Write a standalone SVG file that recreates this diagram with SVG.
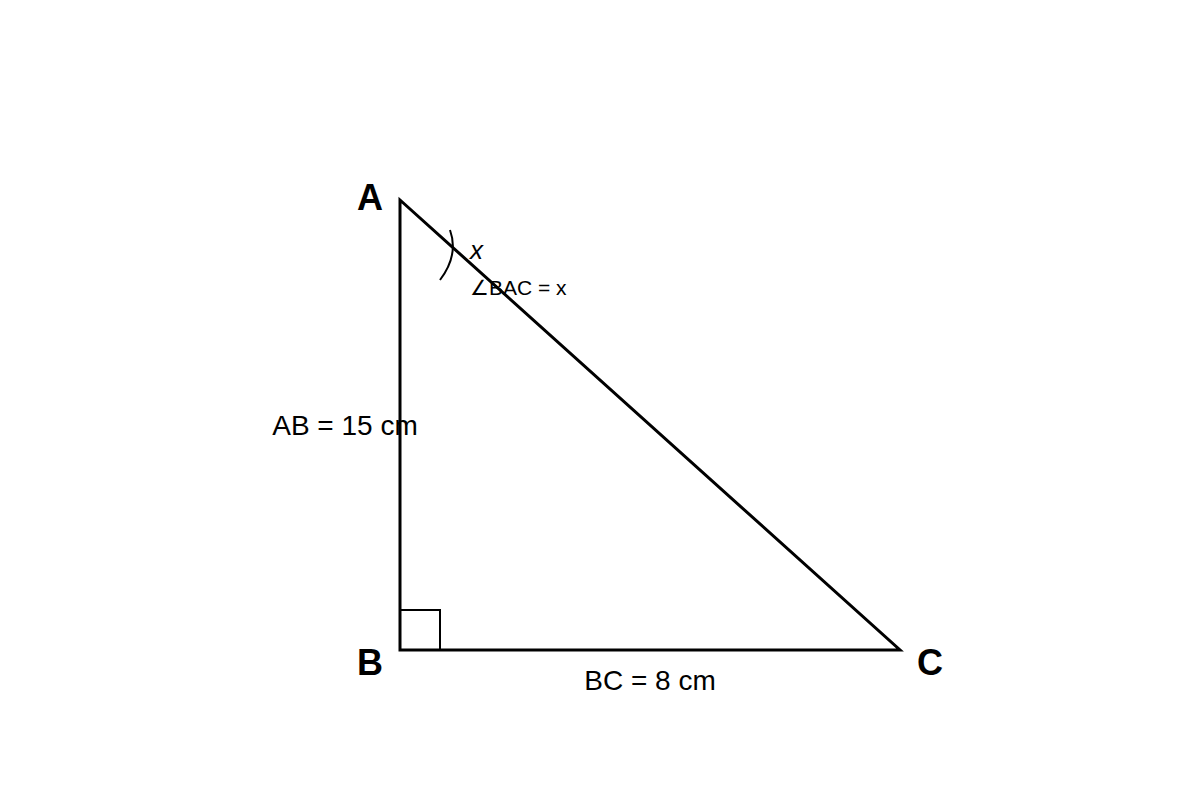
<svg xmlns="http://www.w3.org/2000/svg" width="1200" height="800" viewBox="0 0 1200 800">
<style>
.lbl{font-family:"Liberation Sans",Arial,sans-serif;fill:#000}
.v{font-size:36px;font-weight:bold;text-anchor:middle}
.m{font-size:28px;text-anchor:middle}
</style>
<rect width="1200" height="800" fill="#fff"/>
<g id="triangle">
<polygon points="400,200 400,650 900,650" fill="none" stroke="#000" stroke-width="3"/>
</g>
<g id="right-angle">
<polyline points="400,610 440,610 440,650" fill="none" stroke="#000" stroke-width="2"/>
</g>
<g id="angle-arc">
<path d="M450 230 Q459 255 440 280" fill="none" stroke="#000" stroke-width="2"/>
<text class="lbl" x="470" y="259" font-size="26" font-style="italic">x</text>
<text class="lbl" x="470" y="295" font-size="21">∠BAC = x</text>
</g>
<g id="vertices">
<text class="lbl v" x="370" y="210">A</text>
<text class="lbl v" x="370" y="675">B</text>
<text class="lbl v" x="930" y="675">C</text>
</g>
<g id="sides">
<text class="lbl m" x="345" y="435">AB = 15 cm</text>
<text class="lbl m" x="650" y="690">BC = 8 cm</text>
</g>
</svg>
